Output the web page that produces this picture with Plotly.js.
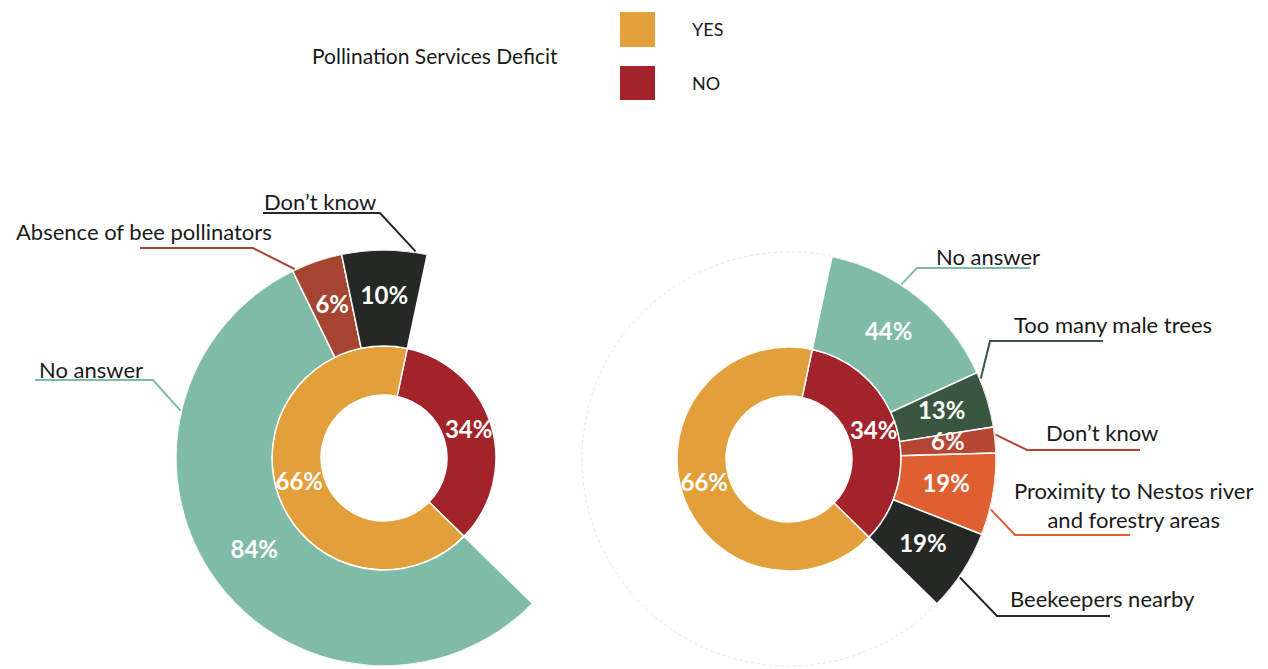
<!DOCTYPE html>
<html>
<head>
<meta charset="utf-8">
<script src="https://cdn.plot.ly/plotly-3.0.1.min.js"></script>
<style>html,body{margin:0;padding:0;background:#fff;}#chart{width:1268px;height:669px;}</style>
</head>
<body>
<div id="chart"></div>
<script>
// ---------------- DATA ----------------
const deficitCats = ['YES', 'NO'];
const deficitPct = [66, 34];

const yesReasons = ['No answer', 'Absence of bee pollinators', 'Don\u2019t know'];
const yesPct = [84, 6, 10];

const noReasons = ['No answer', 'Too many male trees', 'Don\u2019t know', 'Proximity to Nestos river<br>and forestry areas', 'Beekeepers nearby'];
const noPct = [44, 13, 6, 19, 19];

const legendTitle = 'Pollination Services Deficit';

// ---------------- STYLE / LAYOUT CONSTANTS ----------------
const W = 1268, H = 669;
const FONT = 'Lato, "Open Sans", sans-serif';
const deficitColors = ['#E29F3A', '#A2242A'];
const yesColors = ['#80BBA8', '#A64432', '#262826'];
const noColors = ['#80BBA8', '#3A5640', '#B44632', '#DE6030', '#262826'];
const START_ANGLE = 12;          // where the NO slice begins (deg, clockwise from top)
const HOLE = 63, RING = 112;     // radii in px-like radial units
const charts = {
  left:  {cx: 384, cy: 458, R: 208},
  right: {cx: 789, cy: 459, R: 207}
};
const LABEL_SIZE = 22, PCT_SIZE = 24;

// ---------------- HELPERS ----------------
const sum = a => a.reduce((s, v) => s + v, 0);
function slices(values, start, span) {
  const tot = sum(values);
  let a = start;
  const starts = [], widths = [], mids = [];
  values.forEach(v => {
    const w = v / tot * span;
    starts.push(a); widths.push(w); mids.push(a + w / 2);
    a += w;
  });
  return {starts, widths, mids};
}
const px = x => x / W;
const py = y => 1 - y / H;
function domainOf(c) {
  return {x: [px(c.cx - c.R), px(c.cx + c.R)], y: [py(c.cy + c.R), py(c.cy - c.R)]};
}
function pt(c, r, deg) {
  const t = deg * Math.PI / 180;
  return [c.cx + r * Math.sin(t), c.cy - r * Math.cos(t)];
}

// Inner ring: NO first (clockwise from START_ANGLE), then YES
const totDef = sum(deficitPct);
const noSpan = deficitPct[1] / totDef * 360;
const yesSpan = deficitPct[0] / totDef * 360;
const innerOrder = [1, 0];
const inner = slices(innerOrder.map(i => deficitPct[i]), START_ANGLE, 360);
const innerColors = innerOrder.map(i => deficitColors[i]);
const innerText = innerOrder.map(i => deficitPct[i] + '%');
const innerNames = innerOrder.map(i => deficitCats[i]);

const yesOuter = slices(yesPct, START_ANGLE + noSpan, yesSpan);
const noOuter = slices(noPct, START_ANGLE, noSpan);

const traces = [];
function addChart(subplot, c, outer, outerVals, outerColors, outerNames) {
  traces.push({
    type: 'barpolar', subplot: subplot,
    theta: inner.mids, width: inner.widths,
    r: inner.mids.map(() => RING - HOLE), base: HOLE,
    marker: {color: innerColors, line: {color: '#ffffff', width: 1.5}},
    text: innerNames, hoverinfo: 'text', showlegend: false
  });
  traces.push({
    type: 'barpolar', subplot: subplot,
    theta: outer.mids, width: outer.widths,
    r: outer.mids.map(() => c.R - RING), base: RING,
    marker: {color: outerColors, line: {color: '#ffffff', width: 1.5}},
    text: outerNames, hoverinfo: 'text', showlegend: false
  });
  traces.push({
    type: 'scatterpolar', subplot: subplot, mode: 'text',
    theta: inner.mids, r: inner.mids.map(() => (HOLE + RING) / 2 + 1),
    text: innerText,
    textfont: {family: FONT, size: PCT_SIZE, color: '#ffffff', weight: 'bold'},
    hoverinfo: 'skip', showlegend: false
  });
  traces.push({
    type: 'scatterpolar', subplot: subplot, mode: 'text',
    theta: outer.mids, r: outer.mids.map(() => (RING + c.R) / 2),
    text: outerVals.map(v => v + '%'),
    textfont: {family: FONT, size: PCT_SIZE, color: '#ffffff', weight: 'bold'},
    hoverinfo: 'skip', showlegend: false
  });
}
addChart('polar', charts.left, yesOuter, yesPct, yesColors, yesReasons);
addChart('polar2', charts.right, noOuter, noPct, noColors, noReasons);

// ---------------- LABELS WITH LEADER LINES ----------------
const leaders = [
  {c: charts.left, s: yesOuter, i: 1, frac: 0.05, tx: 144, ty: 231, u0: 140, u1: 253, uy: 248, elbow: 'right', text: yesReasons[1], color: yesColors[1]},
  {c: charts.left, s: yesOuter, i: 2, frac: 0.86, tx: 320, ty: 201, u0: 263, u1: 380, uy: 213, elbow: 'right', text: yesReasons[2], color: yesColors[2]},
  {c: charts.left, s: yesOuter, i: 0, frac: 0.745, tx: 91, ty: 369, u0: 35, u1: 153, uy: 380, elbow: 'right', text: yesReasons[0], color: yesColors[0]},
  {c: charts.right, s: noOuter, i: 0, frac: 0.39, tx: 988, ty: 257, u0: 917, u1: 1030, uy: 268, elbow: 'left', text: noReasons[0], color: noColors[0]},
  {c: charts.right, s: noOuter, i: 1, frac: 0.12, tx: 1113, ty: 325, u0: 990, u1: 1103, uy: 341, elbow: 'left', text: noReasons[1], color: noColors[1]},
  {c: charts.right, s: noOuter, i: 2, frac: 0.3, tx: 1102, ty: 432, u0: 1027, u1: 1140, uy: 450, elbow: 'left', text: noReasons[2], color: noColors[2]},
  {c: charts.right, s: noOuter, i: 3, frac: 0.68, tx: 1133, ty: 505, u0: 1015, u1: 1130, uy: 535, elbow: 'left', text: noReasons[3], color: noColors[3]},
  {c: charts.right, s: noOuter, i: 4, frac: 0.58, tx: 1102, ty: 598, u0: 997, u1: 1110, uy: 616, elbow: 'left', text: noReasons[4], color: noColors[4]}
];

const shapes = [];
const annotations = [];

// faint outline of the right chart's outer ring
shapes.push({
  type: 'circle', xref: 'paper', yref: 'paper', layer: 'below',
  x0: px(charts.right.cx - charts.right.R), x1: px(charts.right.cx + charts.right.R),
  y0: py(charts.right.cy + charts.right.R), y1: py(charts.right.cy - charts.right.R),
  line: {color: '#e6e6e6', width: 1, dash: 'dot'}, fillcolor: 'rgba(0,0,0,0)'
});

leaders.forEach(L => {
  const ang = L.s.starts[L.i] + L.frac * L.s.widths[L.i];
  const [ax, ay] = pt(L.c, L.c.R + 1, ang);
  const ex = L.elbow === 'right' ? L.u1 : L.u0;
  const ox = L.elbow === 'right' ? L.u0 : L.u1;
  shapes.push({
    type: 'path', xref: 'paper', yref: 'paper',
    path: `M ${px(ax)} ${py(ay)} L ${px(ex)} ${py(L.uy)} L ${px(ox)} ${py(L.uy)}`,
    line: {color: L.color, width: 2}
  });
  annotations.push({
    xref: 'paper', yref: 'paper', x: px(L.tx), y: py(L.ty),
    xanchor: 'center', yanchor: 'middle', showarrow: false,
    text: L.text, font: {family: FONT, size: LABEL_SIZE, color: '#1a1a1a'}
  });
});

// ---------------- TOP LEGEND ----------------
annotations.push({
  xref: 'paper', yref: 'paper', x: px(435), y: py(56), xanchor: 'center', yanchor: 'middle',
  showarrow: false, text: legendTitle, font: {family: FONT, size: 21, color: '#1a1a1a'}
});
const legendRows = [{y0: 12, y1: 47}, {y0: 66, y1: 100}];
deficitCats.forEach((cat, k) => {
  const row = legendRows[k];
  shapes.push({
    type: 'rect', xref: 'paper', yref: 'paper',
    x0: px(620), x1: px(655), y0: py(row.y1), y1: py(row.y0),
    fillcolor: deficitColors[k], line: {width: 0}
  });
  annotations.push({
    xref: 'paper', yref: 'paper', x: px(690), y: py((row.y0 + row.y1) / 2),
    xanchor: 'left', yanchor: 'middle', showarrow: false,
    text: cat, font: {family: FONT, size: 18, color: '#1a1a1a'}
  });
});

const polarCommon = (c) => ({
  domain: domainOf(c),
  bgcolor: 'rgba(0,0,0,0)',
  bargap: 0,
  radialaxis: {visible: false, range: [0, c.R]},
  angularaxis: {visible: false, direction: 'clockwise', rotation: 90, thetaunit: 'degrees'}
});

const layout = {
  width: W, height: H,
  margin: {l: 0, r: 0, t: 0, b: 0},
  paper_bgcolor: '#ffffff',
  plot_bgcolor: '#ffffff',
  showlegend: false,
  polar: polarCommon(charts.left),
  polar2: polarCommon(charts.right),
  shapes: shapes,
  annotations: annotations,
  font: {family: FONT}
};

Plotly.newPlot('chart', traces, layout, {displayModeBar: false, staticPlot: true});
</script>
</body>
</html>
